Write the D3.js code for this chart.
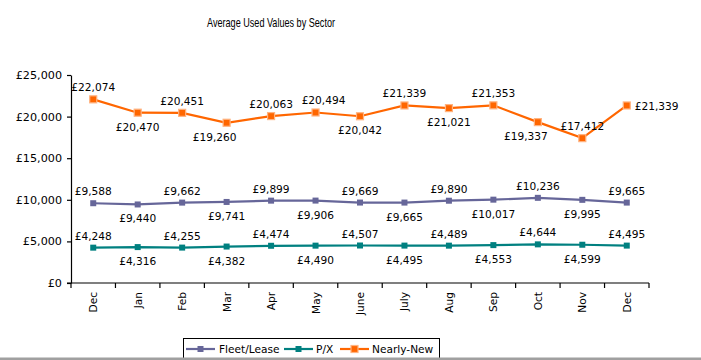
<!DOCTYPE html>
<html>
<head>
<meta charset="utf-8">
<script src="https://cdn.jsdelivr.net/npm/d3@7"></script>
<style>
  body { margin: 0; background: #fff; }
  svg { display: block; }
  text { font-family: "DejaVu Sans", Verdana, sans-serif; fill: #000; }
</style>
</head>
<body>
<svg id="chart"></svg>
<script>
// month categories (Dec to Dec)
var months = ["Dec", "Jan", "Feb", "Mar", "Apr", "May", "June", "July", "Aug", "Sep", "Oct", "Nov", "Dec"];

// series values
var fleetLease = [9588, 9440, 9662, 9741, 9899, 9906, 9669, 9665, 9890, 10017, 10236, 9995, 9665];
var partEx = [4248, 4316, 4255, 4382, 4474, 4490, 4507, 4495, 4489, 4553, 4644, 4599, 4495];
var nearlyNew = [22074, 20470, 20451, 19260, 20063, 20494, 20042, 21339, 21021, 21353, 19337, 17412, 21339];

var yTicks = [0, 5000, 10000, 15000, 20000, 25000];

// where each data label sits relative to its point
var fleetLabelPos = ["t", "b", "t", "b", "t", "b", "t", "b", "t", "b", "t", "b", "t"];
var pxLabelPos = ["t", "b", "t", "b", "t", "b", "t", "b", "t", "b", "t", "b", "t"];
var nnLabelPos = ["t", "b", "t", "bl", "t", "tr", "b", "t", "b", "t", "bl", "t", "r"];

function drawChart() {
  var width = 701;
  var height = 360;

  var svg = d3.select("#chart")
    .attr("width", width)
    .attr("height", height);

  // plot area
  var left = 71, right = 649, top = 75, bottom = 283;

  var x = d3.scaleBand()
    .domain(d3.range(months.length))
    .range([left, right]);

  var y = d3.scaleLinear()
    .domain([0, 25000])
    .range([bottom, top]);

  var fmt = function(v) { return "£" + d3.format(",")(v); };

  // title
  svg.append("text")
    .attr("x", 271)
    .attr("y", 27)
    .attr("text-anchor", "middle")
    .style("font-family", "'Liberation Sans', Arial, sans-serif")
    .style("font-size", "13px")
    .attr("textLength", 128)
    .attr("lengthAdjust", "spacingAndGlyphs")
    .text("Average Used Values by Sector");

  // y axis
  var yAxis = d3.axisLeft(y)
    .tickValues(yTicks)
    .tickSize(4)
    .tickSizeOuter(0)
    .tickPadding(5)
    .tickFormat(fmt);

  var yg = svg.append("g")
    .attr("transform", "translate(" + left + ",0)")
    .call(yAxis);
  yg.select(".domain").attr("stroke", "#000").attr("stroke-width", 1.2);
  yg.selectAll(".tick line").attr("stroke", "#000").attr("stroke-width", 1.2);
  yg.selectAll(".tick text").style("font-size", "11.2px").attr("fill", "#000");

  // x axis: ticks at band edges
  var xg = svg.append("g");
  xg.append("line")
    .attr("x1", left - 4).attr("x2", right)
    .attr("y1", bottom).attr("y2", bottom)
    .attr("stroke", "#000").attr("stroke-width", 1.2);

  var edges = d3.range(months.length + 1).map(function(i) { return left + i * x.step(); });
  xg.selectAll(".xtick")
    .data(edges)
    .enter()
    .append("line")
    .attr("x1", d => d).attr("x2", d => d)
    .attr("y1", bottom).attr("y2", bottom + 5)
    .attr("stroke", "#000").attr("stroke-width", 1.2);

  xg.selectAll(".xlabel")
    .data(months)
    .enter()
    .append("text")
    .attr("transform", (d, i) => "translate(" + (x(i) + x.bandwidth() / 2 + 4) + "," + (bottom + 9) + ") rotate(-90)")
    .attr("text-anchor", "end")
    .style("font-size", "10.6px")
    .text(d => d);

  var cx = function(i) { return x(i) + x.bandwidth() / 2; };

  var series = [
    { name: "Fleet/Lease", values: fleetLease, color: "#666699", pos: fleetLabelPos, size: 6, stroke: "none" },
    { name: "P/X", values: partEx, color: "#008080", pos: pxLabelPos, size: 6, stroke: "none" },
    { name: "Nearly-New", values: nearlyNew, color: "#FF6600", pos: nnLabelPos, size: 7, stroke: "#FFB380" }
  ];

  var line = d3.line()
    .x((d, i) => cx(i))
    .y(d => y(d));

  series.forEach(function(s) {
    var g = svg.append("g");

    g.append("path")
      .datum(s.values)
      .attr("d", line)
      .attr("fill", "none")
      .attr("stroke", s.color)
      .attr("stroke-width", 2.2);

    g.selectAll("rect")
      .data(s.values)
      .enter()
      .append("rect")
      .attr("x", (d, i) => cx(i) - s.size / 2)
      .attr("y", d => y(d) - s.size / 2)
      .attr("width", s.size)
      .attr("height", s.size)
      .attr("fill", s.color)
      .attr("stroke", s.stroke)
      .attr("stroke-width", 1.2);

    // data labels
    g.selectAll("text")
      .data(s.values)
      .enter()
      .append("text")
      .attr("x", function(d, i) {
        var p = s.pos[i];
        if (p === "r") return cx(i) + 8;
        if (p === "bl") return cx(i) - 12;
        if (p === "tr") return cx(i) + 8;
        return cx(i);
      })
      .attr("y", function(d, i) {
        var p = s.pos[i];
        if (p === "t" || p === "tr") return y(d) - 8;
        if (p === "r") return y(d) + 5;
        return y(d) + 18;
      })
      .attr("text-anchor", (d, i) => s.pos[i] === "r" ? "start" : "middle")
      .style("font-size", "10.6px")
      .text(d => fmt(d));
  });

  // legend
  var legend = svg.append("g");
  legend.append("rect")
    .attr("x", 183.5).attr("y", 338.5)
    .attr("width", 256).attr("height", 26)
    .attr("fill", "#fff")
    .attr("stroke", "#000")
    .attr("stroke-width", 1);

  var legendItems = [
    { s: series[0], x0: 186, textX: 219 },
    { s: series[1], x0: 284, textX: 316 },
    { s: series[2], x0: 340, textX: 372 }
  ];

  legendItems.forEach(function(item) {
    var ly = 349;
    legend.append("line")
      .attr("x1", item.x0).attr("x2", item.x0 + 29)
      .attr("y1", ly).attr("y2", ly)
      .attr("stroke", item.s.color)
      .attr("stroke-width", 2.2);
    legend.append("rect")
      .attr("x", item.x0 + 14.5 - item.s.size / 2)
      .attr("y", ly - item.s.size / 2)
      .attr("width", item.s.size)
      .attr("height", item.s.size)
      .attr("fill", item.s.color)
      .attr("stroke", item.s.stroke)
      .attr("stroke-width", 1.2);
    legend.append("text")
      .attr("x", item.textX)
      .attr("y", ly + 4)
      .style("font-size", "10.6px")
      .text(item.s.name);
  });

  // grey strip along the bottom edge
  svg.append("rect")
    .attr("x", 0).attr("y", 357.5)
    .attr("width", width).attr("height", 3)
    .attr("fill", "#a0a0a0");
}

drawChart();
</script>
</body>
</html>
